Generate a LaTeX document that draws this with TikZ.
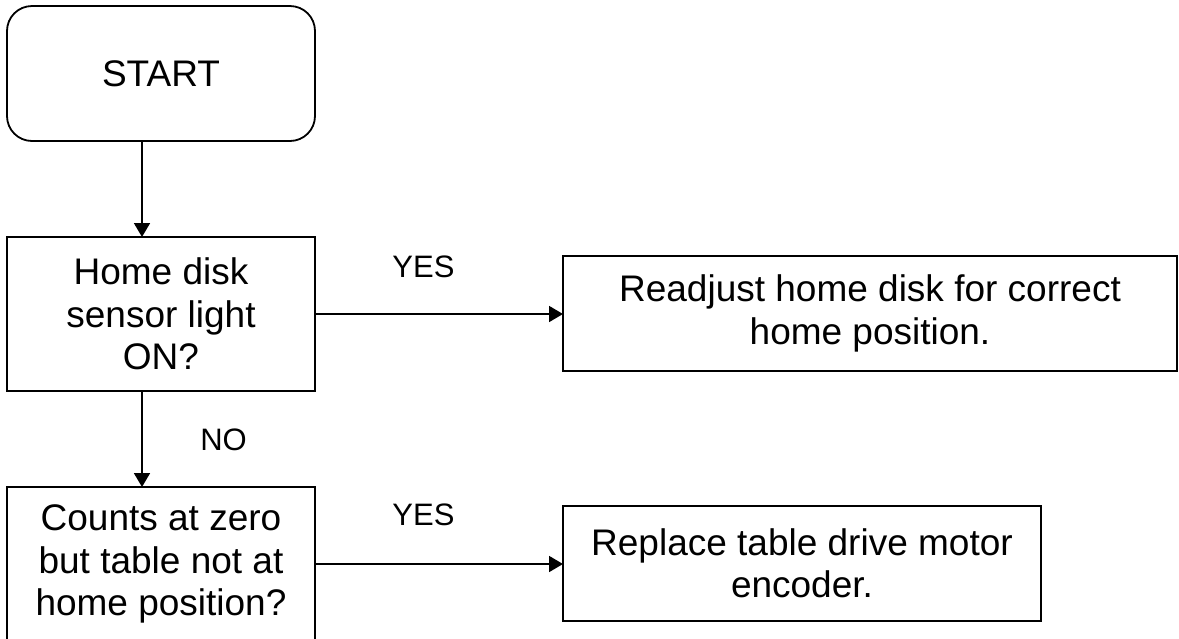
\documentclass[tikz,border=0pt]{standalone}
\usepackage{fontspec}
\setmainfont{Liberation Sans}
\usetikzlibrary{arrows.meta}
\begin{document}
\begin{tikzpicture}[x=1pt,y=-1pt,
  boxtext/.style={font=\fontsize{37}{42.5}\selectfont, align=center},
  flowbox/.style={draw, line width=1.8pt, inner sep=0pt, outer sep=0pt, boxtext},
  lbl/.style={font=\fontsize{31}{36}\selectfont, inner sep=0pt, anchor=base},
  arr/.style={line width=1.8pt, -{Triangle[width=16pt,length=14pt]}}]
\useasboundingbox (0,0) rectangle (1179,638);
\node[flowbox, rounded corners=25pt, minimum width=308pt, minimum height=135pt] (start) at (161,73.5) {START};
\node[flowbox, minimum width=308pt, minimum height=154pt] (b2) at (161,314) {Home disk\\sensor light\\ON?};
\node[flowbox, minimum width=614pt, minimum height=115pt] (b3) at (870,313.5) {Readjust home disk for correct\\home position.};
\node[flowbox, minimum width=308pt, minimum height=154pt] (b4) at (161,564) {Counts at zero\\but table not at\\home position?};
\node[flowbox, minimum width=478pt, minimum height=115pt] (b5) at (802,563.5) {Replace table drive motor\\encoder.};
\coordinate (ax) at (142,0);
\draw[arr] (start.south -| ax) -- (b2.north -| ax);
\draw[arr] (b2.south -| ax) -- (b4.north -| ax);
\draw[arr] (b2.east) -- (b3.west |- b2.east);
\draw[arr] (b4.east) -- (b5.west |- b4.east);
\node[lbl] (yes1) at (423.5,277) {YES};
\node[lbl] (no) at (223.5,450) {NO};
\node[lbl] (yes2) at (423.5,525) {YES};
\end{tikzpicture}
\end{document}
